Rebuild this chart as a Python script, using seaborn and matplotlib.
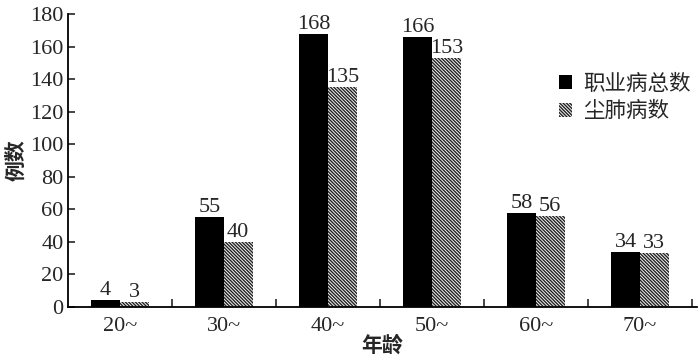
import numpy as np
import pandas as pd
import matplotlib
matplotlib.use("Agg")
import matplotlib.pyplot as plt
from matplotlib.ticker import FixedLocator
import seaborn as sns

ages = ["20~", "30~", "40~", "50~", "60~", "70~"]
total_cases = [4, 55, 168, 166, 58, 34]
pneumo_cases = [3, 40, 135, 153, 56, 33]
series_names = ["职业病总数", "尘肺病数"]

df = pd.DataFrame({
    "age": ages * 2,
    "count": total_cases + pneumo_cases,
    "kind": [series_names[0]] * len(ages) + [series_names[1]] * len(ages),
})

sns.set_theme(style="white")
plt.rcParams["font.family"] = ["Liberation Serif", "Noto Sans CJK SC"]
plt.rcParams["hatch.linewidth"] = 1.0

fig = plt.figure(figsize=(7, 3.62), dpi=100)
ax = fig.add_axes([0.097, 0.152, 0.899, 0.809])

sns.barplot(data=df, x="age", y="count", hue="kind", ax=ax,
            palette=["black", "white"], width=0.55, gap=0,
            saturation=1, linewidth=0, legend=True)

hatch = "\\" * 10

# hatch the second series
for bar in ax.containers[1]:
    bar.set_hatch(hatch)
    bar.set_edgecolor("#222222")
    bar.set_facecolor("#f4f4f4")
    bar.set_linewidth(0)

for cont in ax.containers:
    ax.bar_label(cont, fontsize=16, padding=0)

ax.set_xlim(-0.5, 5.55)
ax.set_ylim(0, 180)
ax.set_yticks(np.arange(0, 181, 20))
ax.xaxis.set_minor_locator(FixedLocator(np.arange(0.5, 6.0, 1.0)))
ax.tick_params(axis="x", which="major", length=0, labelsize=16, pad=7)
ax.tick_params(axis="x", which="minor", length=6, width=1.2, direction="in", bottom=True)
ax.tick_params(axis="y", length=5, width=1.2, direction="in", labelsize=16, left=True, pad=3)

for s in ["top", "right"]:
    ax.spines[s].set_visible(False)
for s in ["left", "bottom"]:
    ax.spines[s].set_color("black")
    ax.spines[s].set_linewidth(1.3)

ax.set_xlabel("年龄", fontsize=15, fontweight="bold", labelpad=0)
ax.set_ylabel("例数", fontsize=15, fontweight="bold", labelpad=2)

handles, labels = ax.get_legend_handles_labels()
leg = ax.legend(handles, labels, loc="upper left", bbox_to_anchor=(0.75, 0.86),
                frameon=False, fontsize=15.5, handlelength=0.6, handleheight=0.6,
                handletextpad=0.5, labelspacing=0.35)
leg_patch = leg.get_patches()[1]
leg_patch.set_hatch(hatch)
leg_patch.set_edgecolor("#222222")
leg_patch.set_facecolor("#f4f4f4")
leg_patch.set_linewidth(0)

fig.savefig("out.png", dpi=100)
